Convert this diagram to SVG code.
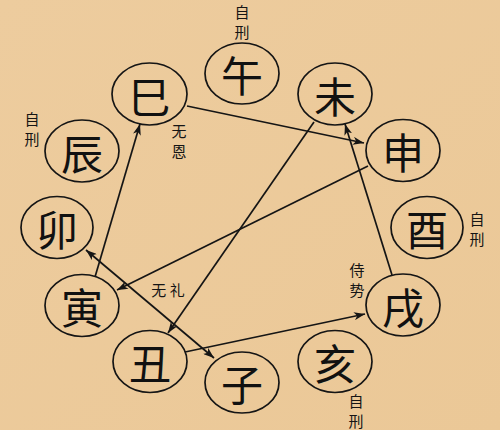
<svg xmlns="http://www.w3.org/2000/svg" width="500" height="430" viewBox="0 0 500 430">
<defs>
<linearGradient id="bg" x1="0" y1="0" x2="1" y2="1">
<stop offset="0" stop-color="#EDCC9E"/>
<stop offset="1" stop-color="#EBC897"/>
</linearGradient>
<marker id="ah" viewBox="0 0 11 8" refX="11" refY="4" markerWidth="11" markerHeight="8" markerUnits="userSpaceOnUse" orient="auto-start-reverse">
<path d="M0,0 L11,4 L0,8 L3,4 Z" fill="#151515"/>
</marker>
<style>
.n ellipse{fill:none;stroke:#151515;stroke-width:1.7}
.n text{font-family:"Noto Sans CJK SC","Noto Sans CJK JP",sans-serif;font-size:42px;fill:#111;text-anchor:middle;dominant-baseline:central}
.lbl{font-family:"Noto Sans CJK SC","Noto Sans CJK JP",sans-serif;font-size:15px;fill:#151515;text-anchor:middle;dominant-baseline:central}
#edges line{stroke:#151515;stroke-width:1.7;fill:none}
</style>
</defs>
<rect width="500" height="430" fill="url(#bg)"/>
<g id="edges">
<line x1="187" y1="106" x2="364" y2="143" marker-end="url(#ah)"/>
<line x1="95" y1="277" x2="140" y2="124" marker-end="url(#ah)"/>
<line x1="368" y1="166" x2="117" y2="290" marker-end="url(#ah)"/>
<line x1="314" y1="122" x2="168" y2="333" marker-end="url(#ah)"/>
<line x1="86" y1="250" x2="214" y2="358" marker-start="url(#ah)" marker-end="url(#ah)"/>
<line x1="185" y1="352" x2="365" y2="314" marker-end="url(#ah)"/>
<line x1="392" y1="275" x2="345" y2="124" marker-end="url(#ah)"/>
</g>
<g id="n-wu" class="n"><ellipse cx="242" cy="73.5" rx="37" ry="30.5"/><text x="242" y="73.5">午</text></g>
<g id="n-wei" class="n"><ellipse cx="335" cy="94" rx="37" ry="31"/><text x="335" y="94">未</text></g>
<g id="n-shen" class="n"><ellipse cx="403" cy="150.5" rx="37" ry="31"/><text x="403" y="150.5">申</text></g>
<g id="n-you" class="n"><ellipse cx="427" cy="227.5" rx="36" ry="31"/><text x="427" y="227.5">酉</text></g>
<g id="n-xu" class="n"><ellipse cx="403" cy="305" rx="37" ry="31"/><text x="403" y="305">戌</text></g>
<g id="n-hai" class="n"><ellipse cx="335" cy="361.5" rx="37" ry="31"/><text x="335" y="361.5">亥</text></g>
<g id="n-zi" class="n"><ellipse cx="242" cy="382.5" rx="37" ry="30.5"/><text x="242" y="382.5">子</text></g>
<g id="n-chou" class="n"><ellipse cx="150" cy="361.5" rx="37" ry="31"/><text x="150" y="361.5">丑</text></g>
<g id="n-yin" class="n"><ellipse cx="82" cy="305.5" rx="37" ry="31"/><text x="82" y="305.5">寅</text></g>
<g id="n-mao" class="n"><ellipse cx="57" cy="227.5" rx="36" ry="31"/><text x="57" y="227.5">卯</text></g>
<g id="n-chen" class="n"><ellipse cx="82" cy="151" rx="37" ry="31"/><text x="82" y="151">辰</text></g>
<g id="n-si" class="n"><ellipse cx="149.5" cy="94" rx="37.5" ry="31"/><text x="149.5" y="94">巳</text></g>
<g id="labels">
<text class="lbl" x="242" y="11">自</text><text class="lbl" x="242" y="31">刑</text>
<text class="lbl" x="32" y="118">自</text><text class="lbl" x="32" y="138">刑</text>
<text class="lbl" x="179" y="130">无</text><text class="lbl" x="179" y="150">恩</text>
<text class="lbl" x="168" y="289">无 礼</text>
<text class="lbl" x="357" y="269">侍</text><text class="lbl" x="357" y="289">势</text>
<text class="lbl" x="477" y="218">自</text><text class="lbl" x="477" y="238">刑</text>
<text class="lbl" x="356" y="400">自</text><text class="lbl" x="356" y="420">刑</text>
</g>
</svg>
